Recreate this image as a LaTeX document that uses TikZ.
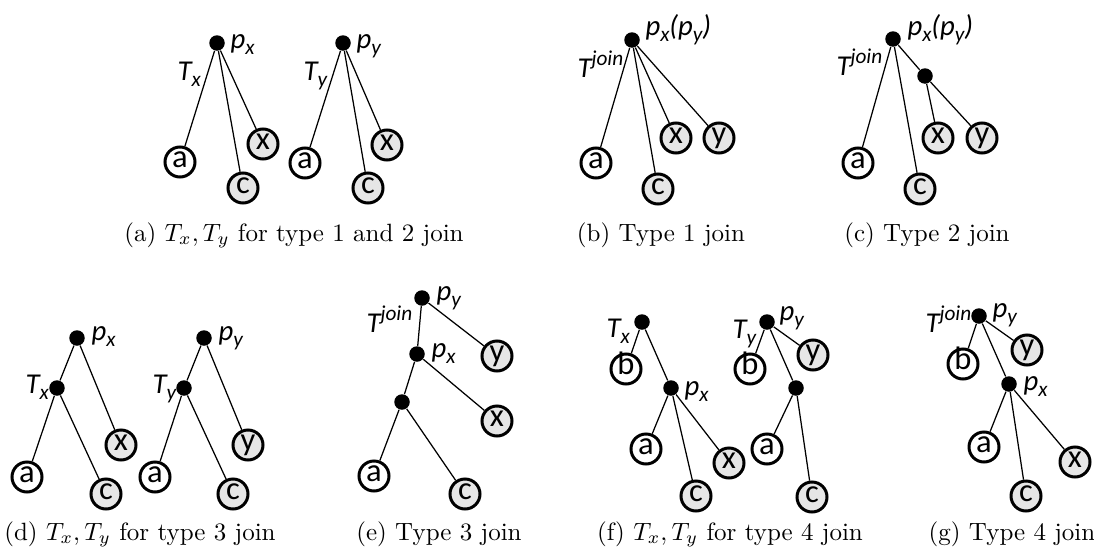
\documentclass[tikz,border=0pt]{standalone}
\usepackage{fontspec}
\newfontfamily\carl{Carlito}
\definecolor{leafgray}{RGB}{230,230,230}
\newcommand\lsub[2]{#1\raisebox{-0.45ex}{\fontsize{8.5}{8.5}\selectfont #2}}
\newcommand\lsupr[2]{#1\raisebox{0.85ex}{\fontsize{8.5}{8.5}\selectfont #2}}
\tikzset{
  dot/.style={circle, fill=black, inner sep=0pt, minimum size=6.2pt},
  leaf/.style={circle, draw=black, line width=1.2pt, fill=white, inner sep=0pt,
    minimum size=12pt, text height=1ex, text depth=0pt,
    font=\carl\fontsize{13}{13}\selectfont},
  gleaf/.style={leaf, fill=leafgray},
  lab/.style={font=\carl\itshape\fontsize{11.5}{11.5}\selectfont, inner sep=0pt, anchor=base west},
  captext/.style={font=\fontsize{10}{12}\selectfont, inner sep=0pt, anchor=base},
  edge/.style={line width=0.5pt}
}
\begin{document}
\begin{tikzpicture}[x=0.4pt,y=-0.4pt]
\useasboundingbox[fill=white] (0,0) rectangle (1094,554);

% ---------- (a) ----------
\node[dot] (a1r) at (217,43) {};
\node[leaf] (a1a) at (180,162) {a};
\node[gleaf] (a1c) at (243,188) {c};
\node[gleaf] (a1x) at (263,144) {x};
\draw[edge] (a1r) -- (a1a); \draw[edge] (a1r) -- (a1c); \draw[edge] (a1r) -- (a1x);
\node[lab] (a1p) at (230,48) {\lsub{p}{x}};
\node[lab] (a1t) at (177,80) {\lsub{T}{x}};

\node[dot] (a2r) at (343,43) {};
\node[leaf] (a2a) at (305,163) {a};
\node[gleaf] (a2c) at (368,188) {c};
\node[gleaf] (a2x) at (387,145) {x};
\draw[edge] (a2r) -- (a2a); \draw[edge] (a2r) -- (a2c); \draw[edge] (a2r) -- (a2x);
\node[lab] (a2p) at (356,48) {\lsub{p}{y}};
\node[lab] (a2t) at (303,80) {\lsub{T}{y}};

% ---------- (b) ----------
\node[dot] (br) at (632,40) {};
\node[leaf] (ba) at (596,163) {a};
\node[gleaf] (bc) at (658,189) {c};
\node[gleaf] (bx) at (676,138) {x};
\node[gleaf] (by) at (719,138) {y};
\draw[edge] (br) -- (ba); \draw[edge] (br) -- (bc); \draw[edge] (br) -- (bx); \draw[edge] (br) -- (by);
\node[lab] (bp) at (645,35) {\lsub{p}{x}(\lsub{p}{y})};
\node[lab] (bt) at (577,77) {\lsupr{T}{join}};

% ---------- (c) ----------
\node[dot] (cr) at (893,39) {};
\node[dot] (ci) at (925,76) {};
\node[leaf] (ca) at (858,163) {a};
\node[gleaf] (cc) at (920,189) {c};
\node[gleaf] (cx) at (938,138) {x};
\node[gleaf] (cy) at (982,138) {y};
\draw[edge] (cr) -- (ca); \draw[edge] (cr) -- (cc); \draw[edge] (cr) -- (ci);
\draw[edge] (ci) -- (cx); \draw[edge] (ci) -- (cy);
\node[lab] (cp) at (907,35) {\lsub{p}{x}(\lsub{p}{y})};
\node[lab] (ct) at (836,75) {\lsupr{T}{join}};

% ---------- (d) ----------
\node[dot] (d1r) at (77,338) {};
\node[dot] (d1i) at (57,388) {};
\node[leaf] (d1a) at (27,477) {a};
\node[gleaf] (d1c) at (106,494) {c};
\node[gleaf] (d1x) at (121,445) {x};
\draw[edge] (d1r) -- (d1i); \draw[edge] (d1r) -- (d1x);
\draw[edge] (d1i) -- (d1a); \draw[edge] (d1i) -- (d1c);
\node[lab] (d1p) at (91,340) {\lsub{p}{x}};
\node[lab] (d1t) at (25,393) {\lsub{T}{x}};

\node[dot] (d2r) at (204,338) {};
\node[dot] (d2i) at (184,388) {};
\node[leaf] (d2a) at (155,477) {a};
\node[gleaf] (d2c) at (233,494) {c};
\node[gleaf] (d2y) at (248,445) {y};
\draw[edge] (d2r) -- (d2i); \draw[edge] (d2r) -- (d2y);
\draw[edge] (d2i) -- (d2a); \draw[edge] (d2i) -- (d2c);
\node[lab] (d2p) at (218,340) {\lsub{p}{y}};
\node[lab] (d2t) at (152,393) {\lsub{T}{y}};

% ---------- (e) ----------
\node[dot] (er) at (422,298) {};
\node[dot] (ep) at (417,354) {};
\node[dot] (ei) at (402,402) {};
\node[leaf] (ea) at (374,476) {a};
\node[gleaf] (ec) at (465,494) {c};
\node[gleaf] (ex) at (497,421) {x};
\node[gleaf] (ey) at (497,356) {y};
\draw[edge] (er) -- (ep); \draw[edge] (er) -- (ey);
\draw[edge] (ep) -- (ei); \draw[edge] (ep) -- (ex);
\draw[edge] (ei) -- (ea); \draw[edge] (ei) -- (ec);
\node[lab] (epy) at (436,300) {\lsub{p}{y}};
\node[lab] (ept) at (366,332) {\lsupr{T}{join}};
\node[lab] (epx) at (431,357) {\lsub{p}{x}};

% ---------- (f) ----------
\node[dot] (f1r) at (642,322) {};
\node[leaf] (f1b) at (626,369) {b};
\node[dot] (f1p) at (671,388) {};
\node[leaf] (f1a) at (646,449) {a};
\node[gleaf] (f1c) at (696,496) {c};
\node[gleaf] (f1x) at (729,463) {x};
\draw[edge] (f1r) -- (f1b); \draw[edge] (f1r) -- (f1p);
\draw[edge] (f1p) -- (f1a); \draw[edge] (f1p) -- (f1c); \draw[edge] (f1p) -- (f1x);
\node[lab] (f1t) at (606,337) {\lsub{T}{x}};
\node[lab] (f1l) at (684,395) {\lsub{p}{x}};

\node[dot] (f2r) at (767,322) {};
\node[leaf] (f2b) at (750,369) {b};
\node[gleaf] (f2y) at (813,355) {y};
\node[dot] (f2i) at (796,388) {};
\node[leaf] (f2a) at (767,449) {a};
\node[gleaf] (f2c) at (812,497) {c};
\draw[edge] (f2r) -- (f2b); \draw[edge] (f2r) -- (f2y); \draw[edge] (f2r) -- (f2i);
\draw[edge] (f2i) -- (f2a); \draw[edge] (f2i) -- (f2c);
\node[lab] (f2l) at (779,320) {\lsub{p}{y}};
\node[lab] (f2t) at (732,338) {\lsub{T}{y}};

% ---------- (g) ----------
\node[dot] (gr) at (979,316) {};
\node[leaf] (gb) at (963,364) {b};
\node[gleaf] (gy) at (1027,350) {y};
\node[dot] (gp) at (1009,384) {};
\node[leaf] (ga) at (984,447) {a};
\node[gleaf] (gc) at (1026,496) {c};
\node[gleaf] (gx) at (1075,462) {x};
\draw[edge] (gr) -- (gb); \draw[edge] (gr) -- (gy); \draw[edge] (gr) -- (gp);
\draw[edge] (gp) -- (ga); \draw[edge] (gp) -- (gc); \draw[edge] (gp) -- (gx);
\node[lab] (gpy) at (992,317) {\lsub{p}{y}};
\node[lab] (gt) at (925,332) {\lsupr{T}{join}};
\node[lab] (gpx) at (1023,390) {\lsub{p}{x}};

% ---------- captions ----------
\node[captext] (capa) at (294,241) {(a) $T_x, T_y$ for type 1 and 2 join};
\node[captext] (capb) at (661,241) {(b) Type 1 join};
\node[captext] (capc) at (927,241) {(c) Type 2 join};
\node[captext] (capd) at (140,540) {(d) $T_x, T_y$ for type 3 join};
\node[captext] (cape) at (439,540) {(e) Type 3 join};
\node[captext] (capf) at (730,540) {(f) $T_x, T_y$ for type 4 join};
\node[captext] (capg) at (1012,540) {(g) Type 4 join};
\end{tikzpicture}
\end{document}
